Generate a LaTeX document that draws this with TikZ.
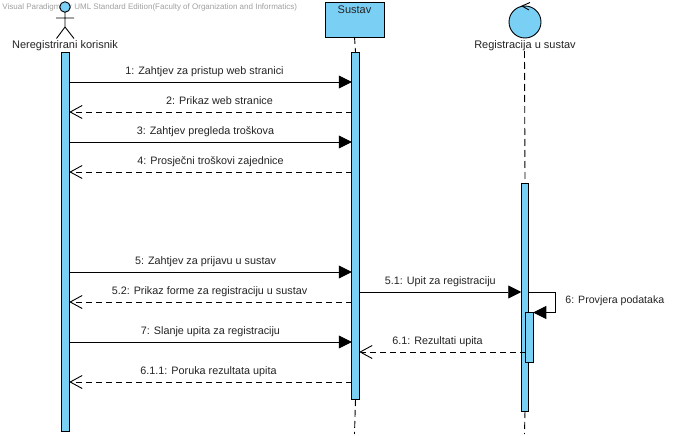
\documentclass[tikz,border=0pt]{standalone}
\usepackage{fontspec}
\setmainfont{Liberation Sans}
\usetikzlibrary{arrows.meta}
\definecolor{umlblue}{RGB}{122,207,245}
\definecolor{umltext}{RGB}{35,35,35}
\begin{document}
\begin{tikzpicture}[x=1pt,y=-1pt,line width=0.9pt,
    lifeline/.style={dash pattern=on 7pt off 4pt},
    actbar/.style={draw,fill=umlblue,minimum width=7.5pt,inner sep=0pt,outer sep=0pt},
    headbox/.style={draw,fill=umlblue,inner sep=0pt,outer sep=0pt},
    call/.style={-{Triangle[length=13pt,width=13pt]}},
    reply/.style={dash pattern=on 6pt off 4pt,-{Straight Barb[length=12pt,width=13pt]}},
    msglabel/.style={font=\fontsize{10.8}{12}\selectfont,text=umltext,inner sep=0pt,text depth=0pt,above=7pt},
    namelabel/.style={font=\fontsize{11}{12}\selectfont,text=umltext,inner sep=0pt}]
    \useasboundingbox (0,0) rectangle (681,436);
    % zaglavlja
    \node[font=\fontsize{8}{9}\selectfont,text=gray!75,inner sep=0pt,anchor=west] (wmark) at (2,7)
        {Visual Paradigm for UML Standard Edition(Faculty of Organization and Informatics)};
    \node[headbox,circle,minimum size=10.5pt] (glava) at (65,7) {};
    \coordinate (trup) at (65,27);
    \coordinate (rukaL) at (56,18);
    \coordinate (rukaD) at (74,18);
    \coordinate (nogaL) at (56.5,38.5);
    \coordinate (nogaD) at (74,38.5);
    \draw (glava.south) -- (trup) (rukaL) -- (rukaD) (nogaL) -- (trup) -- (nogaD);
    \node[namelabel] (korisnik) at (65,45.5) {Neregistrirani korisnik};
    \node[headbox,minimum width=59pt,minimum height=34.5pt] (sustav) at (354.5,19.75) {};
    \node[namelabel] (sustavtxt) at (354.5,10) {Sustav};
    \node[headbox,circle,minimum size=32pt] (kontrola) at (525,22) {};
    \coordinate (strelaA) at (530,2.5);
    \coordinate (strelaB) at (522,6);
    \coordinate (strelaC) at (529,10);
    \draw (strelaA) -- (strelaB) -- (strelaC);
    \node[namelabel] (registracija) at (525,45.5) {Registracija u sustav};
    % aktivacije
    \coordinate (krajS) at (354.5,434);
    \coordinate (krajR) at (524.5,434);
    \coordinate (vrhR) at (524.5,51);
    \node[actbar,minimum height=379pt] (barK) at (65.5,241.5) {};
    \node[actbar,minimum height=347pt] (barS) at (355.5,225.5) {};
    \node[actbar,minimum height=228pt] (barR) at (525,297) {};
    \node[actbar,minimum height=50pt] (barN) at (529.5,337.5) {};
    \draw[lifeline] (sustav.south) -- (barS.north);
    \draw[lifeline] (barS.south) -- (krajS);
    \draw[lifeline] (vrhR) -- (barR.north);
    \draw[lifeline] (barR.south) -- (krajR);
    % poruke
    \foreach \yy/\txt/\sh in {82/{1: Zahtjev za pristup web stranici}/-6,
        142/{3: Zahtjev pregleda troškova}/-5,
        272/{5: Zahtjev za prijavu u sustav}/-5,
        342/{7: Slanje upita za registraciju}/0} {
        \coordinate (k\yy) at (barK.east |- 0,\yy);
        \coordinate (s\yy) at (barS.west |- 0,\yy);
        \draw[call] (k\yy) -- node[msglabel,xshift=\sh pt] {\txt} (s\yy);
    }
    \foreach \yy/\txt/\sh in {112/{2: Prikaz web stranice}/9,
        172/{4: Prosječni troškovi zajednice}/0,
        302/{5.2: Prikaz forme za registraciju u sustav}/-1,
        382/{6.1.1: Poruka rezultata upita}/-2} {
        \coordinate (k\yy) at (barK.east |- 0,\yy);
        \coordinate (s\yy) at (barS.west |- 0,\yy);
        \draw[reply] (s\yy) -- node[msglabel,xshift=\sh pt] {\txt} (k\yy);
    }
    \coordinate (s292) at (barS.east |- 0,292);
    \coordinate (r292) at (barR.west |- 0,292);
    \draw[call] (s292) -- node[msglabel] {5.1: Upit za registraciju} (r292);
    \coordinate (n352) at (barN.west |- 0,352);
    \coordinate (s352) at (barS.east |- 0,352);
    \draw[reply] (n352) -- node[msglabel,xshift=-5pt] {6.1: Rezultati upita} (s352);
    % poruka samom sebi
    \coordinate (selfA) at (barR.east |- 0,292.5);
    \coordinate (selfB) at (555.5,292.5);
    \coordinate (selfC) at (555.5,312.5);
    \coordinate (selfD) at (barN.east |- 0,312.5);
    \draw[call] (selfA) -- (selfB) -- (selfC) -- (selfD);
    \node[font=\fontsize{10.6}{12}\selectfont,text=umltext,inner sep=0pt,anchor=west] (provjera) at (565,300.5) {6: Provjera podataka};
\end{tikzpicture}
\end{document}
